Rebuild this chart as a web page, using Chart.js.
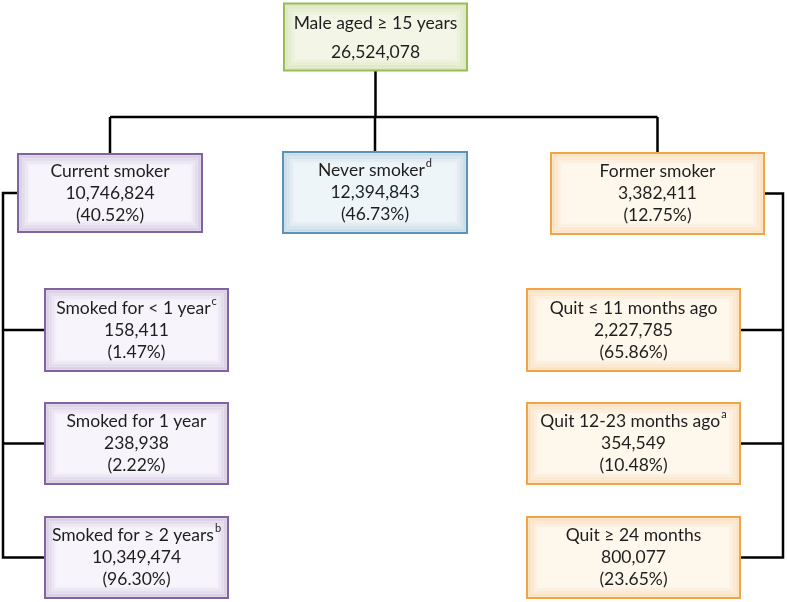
<!DOCTYPE html>
<html>
<head>
<meta charset="utf-8">
<script src="https://cdn.jsdelivr.net/npm/chart.js@4.4.0/dist/chart.umd.min.js"></script>
<style>
  body { margin: 0; background: #fff; }
  #wrap { width: 787px; height: 602px; }
</style>
</head>
<body>
<div id="wrap"><canvas id="flow" width="787" height="602"></canvas></div>
<script>
// node data
var labels = ['Male aged \u2265 15 years', 'Current smoker', 'Never smoker', 'Former smoker',
  'Smoked for < 1 year', 'Smoked for 1 year', 'Smoked for \u2265 2 years',
  'Quit \u2264 11 months ago', 'Quit 12-23 months ago', 'Quit \u2265 24 months'];
var counts = [26524078, 10746824, 12394843, 3382411, 158411, 238938, 10349474, 2227785, 354549, 800077];
var percents = [null, 40.52, 46.73, 12.75, 1.47, 2.22, 96.30, 65.86, 10.48, 23.65];
var notes = ['', '', 'd', '', 'c', '', 'b', '', 'a', ''];

// layout (axis units = pixels of the original figure)
var nodeX = [375.5, 110, 375, 657.5, 136.5, 136.5, 136.5, 633.5, 633.5, 633.5];
var nodeY = [37, 193, 192.5, 193.5, 330, 443.5, 557.5, 330, 443.5, 557.5];
var nodeW = [183, 184, 184, 213, 183, 183, 183, 213, 213, 213];
var nodeH = [67, 78, 81, 81, 82, 81, 81, 82, 81, 81];
var theme = ['green', 'purple', 'blue', 'orange', 'purple', 'purple', 'purple', 'orange', 'orange', 'orange'];

var colors = {
  green:  { fill: '#f3f6e6', edge: '#9bbb59' },
  purple: { fill: '#f7f4fb', edge: '#8064a2' },
  blue:   { fill: '#eef5f9', edge: '#5a93b5' },
  orange: { fill: '#fef7ec', edge: '#f0a446' }
};

var busY = 117, leftRail = 3, rightRail = 783;

function boxTop(i) { return nodeY[i] - nodeH[i] / 2; }
function boxBottom(i) { return nodeY[i] + nodeH[i] / 2; }
function boxLeft(i) { return nodeX[i] - nodeW[i] / 2; }
function boxRight(i) { return nodeX[i] + nodeW[i] / 2; }

var connectors = [
  [{x: nodeX[0], y: boxBottom(0)}, {x: nodeX[0], y: busY}],
  [{x: nodeX[1], y: busY}, {x: nodeX[3], y: busY}],
  [{x: nodeX[1], y: busY}, {x: nodeX[1], y: boxTop(1)}],
  [{x: nodeX[2], y: busY}, {x: nodeX[2], y: boxTop(2)}],
  [{x: nodeX[3], y: busY}, {x: nodeX[3], y: boxTop(3)}],
  [{x: boxLeft(1), y: nodeY[1]}, {x: leftRail, y: nodeY[1]}, {x: leftRail, y: nodeY[6]}, {x: boxLeft(6), y: nodeY[6]}],
  [{x: leftRail, y: nodeY[4]}, {x: boxLeft(4), y: nodeY[4]}],
  [{x: leftRail, y: nodeY[5]}, {x: boxLeft(5), y: nodeY[5]}],
  [{x: boxRight(3), y: nodeY[3]}, {x: rightRail, y: nodeY[3]}, {x: rightRail, y: nodeY[9]}, {x: boxRight(9), y: nodeY[9]}],
  [{x: rightRail, y: nodeY[7]}, {x: boxRight(7), y: nodeY[7]}],
  [{x: rightRail, y: nodeY[8]}, {x: boxRight(8), y: nodeY[8]}]
];

var datasets = connectors.map(function(pts) {
  return { type: 'line', data: pts, showLine: true, borderColor: '#000', borderWidth: 2.5,
    pointRadius: 0, fill: false, tension: 0, borderJoinStyle: 'miter' };
});
datasets.push({
  label: 'nodes',
  data: nodeX.map(function(x, i) { return {x: x, y: nodeY[i]}; }),
  pointRadius: 0
});

var font = '17.5px Lato, "Open Sans", sans-serif';
var supFont = '11px Lato, "Open Sans", sans-serif';

function drawLine(ctx, text, sup, cx, y) {
  ctx.font = font;
  var w = ctx.measureText(text).width;
  ctx.font = supFont;
  var sw = sup ? ctx.measureText(sup).width + 1 : 0;
  var x0 = cx - (w + sw) / 2;
  ctx.font = font;
  ctx.textAlign = 'left';
  ctx.fillText(text, x0, y);
  if (sup) {
    ctx.font = supFont;
    ctx.fillText(sup, x0 + w + 1, y - 7);
  }
}

var boxPlugin = {
  id: 'boxes',
  afterDatasetsDraw: function(chart) {
    var ctx = chart.ctx;
    var xs = chart.scales.x, ys = chart.scales.y;
    ctx.save();
    for (var i = 0; i < labels.length; i++) {
      var x1 = xs.getPixelForValue(boxLeft(i)), x2 = xs.getPixelForValue(boxRight(i));
      var y1 = ys.getPixelForValue(boxTop(i)), y2 = ys.getPixelForValue(boxBottom(i));
      var c = colors[theme[i]];
      ctx.fillStyle = c.fill;
      ctx.fillRect(x1, y1, x2 - x1, y2 - y1);
      // inner glow
      for (var k = 1; k <= 7; k++) {
        ctx.globalAlpha = 0.22 - k * 0.028;
        ctx.strokeStyle = c.edge;
        ctx.lineWidth = 2;
        ctx.strokeRect(x1 + k * 1.5, y1 + k * 1.5, x2 - x1 - k * 3, y2 - y1 - k * 3);
      }
      ctx.globalAlpha = 1;
      ctx.strokeStyle = c.edge;
      ctx.lineWidth = 2;
      ctx.strokeRect(x1, y1, x2 - x1, y2 - y1);

      ctx.fillStyle = '#1e1e1e';
      ctx.textBaseline = 'middle';
      var cx = (x1 + x2) / 2, cy = (y1 + y2) / 2;
      var num = counts[i].toLocaleString('en-US');
      if (percents[i] === null) {
        drawLine(ctx, labels[i], notes[i], cx, cy - 14);
        drawLine(ctx, num, '', cx, cy + 15);
      } else {
        drawLine(ctx, labels[i], notes[i], cx, cy - 22);
        drawLine(ctx, num, '', cx, cy);
        drawLine(ctx, '(' + percents[i].toFixed(2) + '%)', '', cx, cy + 22);
      }
    }
    ctx.restore();
  }
};

new Chart(document.getElementById('flow'), {
  type: 'scatter',
  data: { datasets: datasets },
  options: {
    responsive: false,
    animation: false,
    layout: { padding: 0 },
    plugins: { legend: { display: false }, tooltip: { enabled: false } },
    scales: {
      x: { type: 'linear', min: 0, max: 787, display: false },
      y: { type: 'linear', min: 0, max: 602, reverse: true, display: false }
    }
  },
  plugins: [boxPlugin]
});
</script>
</body>
</html>
